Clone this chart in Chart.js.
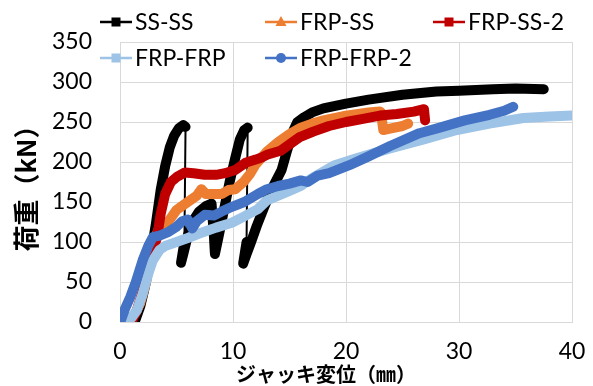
<!DOCTYPE html>
<html>
<head>
<meta charset="utf-8">
<script src="https://cdn.jsdelivr.net/npm/chart.js@4.4.1/dist/chart.umd.min.js"></script>
<style>
html,body{margin:0;padding:0;background:#fff;}
#wrap{position:relative;width:593px;height:386px;}
</style>
</head>
<body>
<div id="wrap"><canvas id="c" width="593" height="386"></canvas></div>
<script>
// ---- data ----
const seriesNames = ["SS-SS", "FRP-SS", "FRP-SS-2", "FRP-FRP", "FRP-FRP-2"];
const xTicks = [0, 10, 20, 30, 40];
const yTicks = [0, 50, 100, 150, 200, 250, 300, 350];
const xTitle = "ジャッキ変位（㎜）";
const yTitle = "荷重（kN）";

const ssX = [1.3,1.8,2.3,2.8,3.2,3.6,4.0,4.4,4.8,5.2,5.6,5.8,5.7,5.4,5.6,6.0,6.4,7.0,7.6,8.1,8.3,8.4,8.7,9.2,9.7,10.2,10.6,11.0,11.3,11.2,10.9,11.2,11.6,12.1,12.8,13.5,14.3,14.8,15.3,15.7,16.3,17.0,18.0,20.0,22.0,25.0,28.0,30.0,33.0,35.0,37.5];
const ssY = [0,20,50,90,125,165,195,218,233,242,246,244,100,74,85,108,125,138,145,148,110,85,105,140,175,205,228,240,243,100,73,85,100,120,145,168,190,215,238,250,256,262,267,273,278,284,288,289,291,292,291];

const fsX = [0.9,1.4,1.8,2.3,2.8,3.1,3.5,4.0,4.4,5.0,5.6,6.2,6.8,7.2,7.6,8.2,9.0,9.6,10.2,11.0,11.5,12.0,13.0,14.0,15.0,16.0,17.0,18.0,20.0,22.0,23.0,23.1,23.3,24.0,25.0,25.5];
const fsY = [0,12,24,50,85,105,118,122,128,140,146,152,158,166,160,160,160,165,166,176,185,197,213,225,235,243,248,252,258,262,263,262,240,242,245,248];

const fs2X = [1.0,1.5,2.0,2.5,3.0,3.3,3.6,4.0,4.5,5.0,5.75,6.5,7.5,8.5,9.3,10.2,11.1,12.0,12.6,13.0,14.2,15.0,15.9,17.1,18.5,20.0,21.5,23.0,24.5,26.0,26.9,27.0];
const fs2Y = [0,15,38,65,92,108,135,160,175,181,187,186,184,184,186,190,199,203,206,209,214,222,231,238,245,250,254,258,260,263,266,252];

const ffX = [0.5,1.0,1.5,2.0,2.5,2.9,3.5,4.0,5.0,6.0,6.9,7.7,8.5,9.9,11.0,12.2,13.0,14.0,15.0,16.0,17.0,18.0,19.0,21.0,23.9,26.8,29.8,32.7,35.7,38.0,40.0];
const ffY = [0,5,15,35,60,77,90,95,100,105,110,114,118,124,132,141,152,158,164,170,180,188,196,205,217,228,240,248,255,257,258];

const ff2X = [0.1,0.4,0.9,1.4,2.0,2.5,2.9,3.5,4.2,5.0,5.5,6.0,6.4,6.8,7.5,8.3,9.0,9.9,11.0,12.2,13.0,14.0,15.0,16.0,16.6,17.5,18.5,20.3,22.0,23.9,26.5,28.3,30.5,32.7,34.0,34.8];
const ff2Y = [3,15,31,50,77,95,106,108,112,119,126,128,117,126,134,133,138,144,150,160,166,170,173,177,175,183,186,196,207,220,236,243,252,259,264,269];

// ---- styles ----
const colors = ["#000000", "#ED7D31", "#C00000", "#9DC3E6", "#4472C4"];
const markers = ["rect", "triangle", "rect", "rect", "circle"];

function pts(xs, ys) { return xs.map((x, i) => ({x: x, y: ys[i]})); }
const allX = [ssX, fsX, fs2X, ffX, ff2X];
const allY = [ssY, fsY, fs2Y, ffY, ff2Y];

const datasets = seriesNames.map((name, i) => ({
  label: name,
  data: pts(allX[i], allY[i]),
  borderColor: colors[i],
  backgroundColor: colors[i],
  borderWidth: 10,
  borderJoinStyle: 'round',
  borderCapStyle: 'round',
  pointRadius: 0,
  showLine: true,
  tension: 0,
  order: 5 - i,
  segment: {
    borderWidth: ctx => (ctx.p0.parsed.y - ctx.p1.parsed.y > 60 ? 2 : undefined)
  }
}));

Chart.defaults.font.family = "Lato";
Chart.defaults.color = "#000";

const legendPlugin = {
  id: 'excelLegend',
  afterDraw(chart) {
    const ctx = chart.ctx;
    const pos = [[100, 22], [265, 22], [433, 22], [100, 58], [265, 58]];
    ctx.save();
    ctx.font = "23px Lato";
    ctx.textBaseline = "middle";
    ctx.textAlign = "left";
    seriesNames.forEach((name, i) => {
      const [x, y] = pos[i];
      ctx.strokeStyle = colors[i];
      ctx.lineWidth = 2.5;
      ctx.beginPath(); ctx.moveTo(x, y); ctx.lineTo(x + 32, y); ctx.stroke();
      ctx.fillStyle = colors[i];
      const cx = x + 16;
      if (markers[i] === "rect") {
        ctx.fillRect(cx - 4.5, y - 4.5, 9, 9);
      } else if (markers[i] === "triangle") {
        ctx.beginPath(); ctx.moveTo(cx, y - 6); ctx.lineTo(cx + 5.5, y + 4); ctx.lineTo(cx - 5.5, y + 4); ctx.closePath(); ctx.fill();
      } else {
        ctx.beginPath(); ctx.arc(cx, y, 5, 0, Math.PI * 2); ctx.fill();
      }
      ctx.fillStyle = "#000";
      ctx.fillText(name, x + 35, y + 1);
    });
    ctx.restore();
  }
};

const xTitlePlugin = {
  id: 'xTitle',
  afterDraw(chart) {
    const ctx = chart.ctx;
    ctx.save();
    ctx.font = "bold 20px 'Noto Sans CJK JP'";
    ctx.textBaseline = "middle";
    ctx.textAlign = "left";
    ctx.fillStyle = "#000";
    ctx.fillText(xTitle, 236, 374);
    ctx.restore();
  }
};

new Chart(document.getElementById('c'), {
  type: 'scatter',
  data: { datasets: datasets },
  options: {
    responsive: false,
    animation: false,
    devicePixelRatio: 1,
    layout: { padding: { left: 0, right: 21, top: 42, bottom: 0 } },
    plugins: { legend: { display: false }, tooltip: { enabled: false } },
    scales: {
      x: {
        type: 'linear', min: 0, max: 40,
        afterFit: s => { s.height = 64; s.paddingLeft = 0; s.paddingRight = 0; },
        afterBuildTicks: s => { s.ticks = xTicks.map(v => ({value: v})); },
        ticks: { font: { size: 23 }, padding: 16, color: "#000" },
        grid: { color: "#D9D9D9", lineWidth: 1, drawTicks: false },
        border: { color: "#D9D9D9" },
        title: { display: false }
      },
      y: {
        type: 'linear', min: 0, max: 350,
        afterFit: s => { s.width = 120; },
        afterBuildTicks: s => { s.ticks = yTicks.map(v => ({value: v})); },
        ticks: { font: { size: 23 }, padding: 28, color: "#000" },
        grid: { color: "#D9D9D9", lineWidth: 1, drawTicks: false },
        border: { color: "#D9D9D9" },
        title: { display: true, text: yTitle, font: { family: "'Noto Sans CJK JP'", size: 26, weight: 'bold' }, color: "#000", padding: { top: 11, bottom: 0 } }
      }
    }
  },
  plugins: [legendPlugin, xTitlePlugin]
});
</script>
</body>
</html>
